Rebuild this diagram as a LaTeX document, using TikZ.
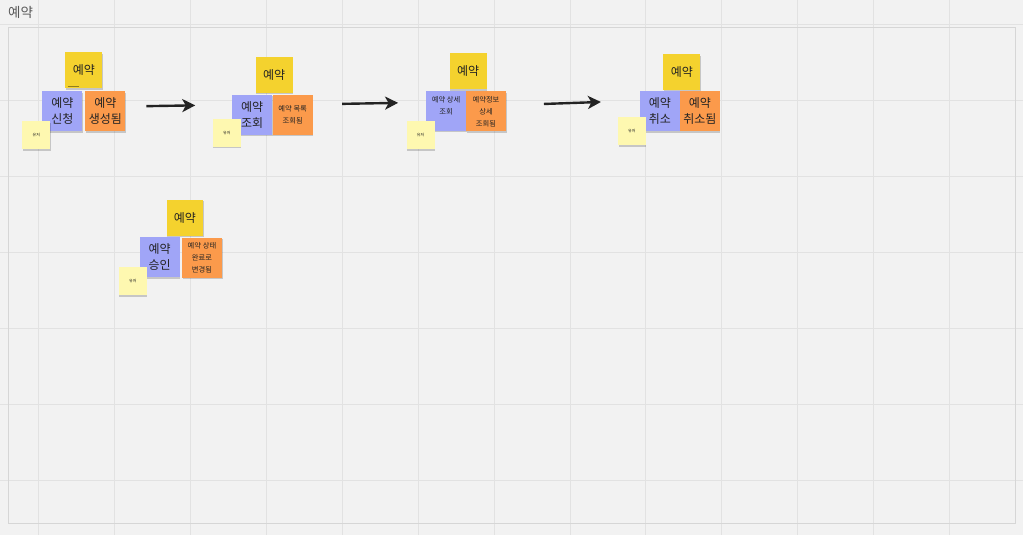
\documentclass[tikz,border=0pt]{standalone}
\usepackage{fontspec}
\setmainfont{Noto Sans CJK KR}
\usetikzlibrary{arrows.meta,shadows}
\definecolor{boardbg}{HTML}{F2F2F2}
\definecolor{gridline}{HTML}{E2E2E2}
\definecolor{frameline}{HTML}{D6D6D6}
\definecolor{aggyellow}{HTML}{F4D22E}
\definecolor{cmdblue}{HTML}{A0A5F7}
\definecolor{evtorange}{HTML}{FB9A4B}
\definecolor{useryellow}{HTML}{FEF8B0}
\definecolor{inkdark}{HTML}{232323}

\begin{document}
\begin{tikzpicture}[x=1pt,y=-1pt]
  \tikzset{sticky/.style={inner sep=0pt,align=center,text=inkdark,minimum width=40pt,minimum height=40pt,
      drop shadow={shadow xshift=0.6pt,shadow yshift=-1.6pt,opacity=0.18,fill=black}},
    agg/.style={sticky,fill=aggyellow,minimum width=37pt,minimum height=36pt,font=\fontsize{12}{15}\selectfont},
    cmd/.style={sticky,fill=cmdblue,font=\fontsize{12}{16}\selectfont},
    evt/.style={sticky,fill=evtorange,font=\fontsize{12}{16}\selectfont},
    small/.style={font=\fontsize{7.3}{12}\selectfont},
    actor/.style={sticky,fill=useryellow,minimum width=28pt,minimum height=28pt,font=\fontsize{4}{5}\selectfont},
    flow/.style={-{Stealth[length=13pt,width=13pt,inset=3.5pt]},draw=inkdark,line width=2.4pt}}
  % board
  \fill[boardbg] (0,0) rectangle (1023,535);
  \foreach \gx in {38,114,...,950} \draw[gridline,line width=0.9pt] (\gx,0) -- (\gx,535);
  \foreach \gy in {24,100,...,480} \draw[gridline,line width=0.9pt] (0,\gy) -- (1023,\gy);
  \draw[frameline,line width=1pt] (8.5,27) rectangle (1016,523);
  \node[anchor=west,inner sep=0pt,text=black!65,font=\fontsize{13.5}{16}\selectfont] (title) at (7.5,12) {예약};

  % group 1
  \node[agg] (agg1) at (83.5, 70) {예약};
  \draw[aggyellow!60!black,line width=0.8pt] ([xshift=2.5pt,yshift=2.5pt]agg1.south west) -- ++(11,0);
  \node[cmd] (cmd1) at (62, 111) {예약\\신청};
  \node[evt] (evt1) at (105, 111) {예약\\생성됨};
  \node[actor] (user1) at (36, 135) {유저};

  % group 2
  \node[agg] (agg2) at (274, 74.5) {예약};
  \node[cmd] (cmd2) at (252, 114.5) {예약\\조회};
  \node[evt,small] (evt2) at (292.5, 114.5) {예약 목록\\조회됨};
  \node[actor] (user2) at (226.5, 132.5) {유저};

  % group 3
  \node[agg] (agg3) at (468, 71) {예약};
  \node[cmd,small] (cmd3) at (446, 110.5) {예약 상세\\조회\\[-1pt]~};
  \node[evt,small] (evt3) at (486, 111) {예약정보\\상세\\조회됨};
  \node[actor] (user3) at (420.5, 135) {유저};

  % group 4
  \node[agg] (agg4) at (682, 71.5) {예약};
  \node[cmd] (cmd4) at (660, 110.7) {예약\\취소};
  \node[evt] (evt4) at (700, 111) {예약\\취소됨};
  \node[actor] (user4) at (632, 131) {유저};

  % group 5
  \node[agg] (agg5) at (184.7, 217.5) {예약};
  \node[cmd] (cmd5) at (159.3, 257) {예약\\승인};
  \node[evt,small] (evt5) at (201.7, 257.3) {예약 상태\\완료로\\변경됨};
  \node[actor] (user5) at (132.5, 281) {유저};

  % flow arrows
  \coordinate (a1s) at (146, 105.8);
  \coordinate (a1e) at (195, 105);
  \coordinate (a2s) at (342, 103.5);
  \coordinate (a2e) at (398, 102.5);
  \coordinate (a3s) at (544, 103.6);
  \coordinate (a3e) at (601, 101.6);
  \draw[flow] (a1s) -- (a1e);
  \draw[flow] (a2s) -- (a2e);
  \draw[flow] (a3s) -- (a3e);
\end{tikzpicture}
\end{document}
